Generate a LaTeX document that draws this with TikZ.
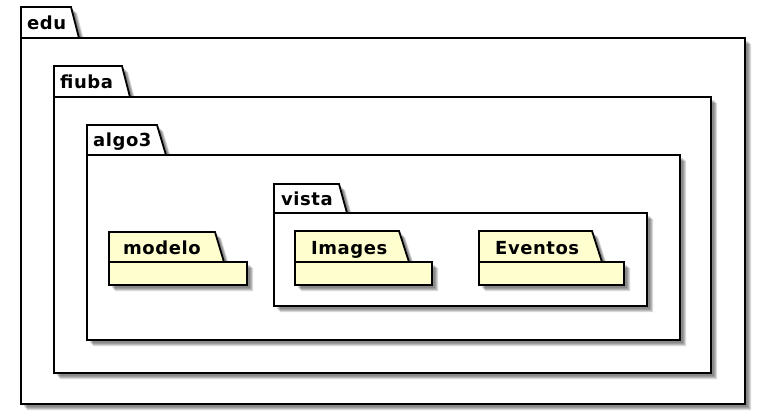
\documentclass[tikz,border=0pt]{standalone}
\usepackage{fontspec}
\newfontfamily\pkgfont[LetterSpace=3]{DejaVu Sans Bold}
\definecolor{pkgyellow}{HTML}{FEFECE}
\tikzset{
  pkgline/.style={draw=black, line width=1.8pt, line join=miter},
  pkgtext/.style={anchor=base west, inner sep=0pt, font=\fontsize{18}{21}\pkgfont},
}
% #1 left, #2 top, #3 tab top right, #4 tab bottom right, #5 tab bottom, #6 right, #7 bottom, #8 fill
\newcommand\pkgshape[8]{%
  \foreach \s in {6,5,4,3}{%
    \fill[black, opacity=0.14, shift={(\s,\s)}]
      (#1,#2) -- (#3,#2) -- (#4,#5) -- (#6,#5) -- (#6,#7) -- (#1,#7) -- cycle;
  }
  \path[pkgline, fill=#8]
      (#1,#2) -- (#3,#2) -- (#4,#5) -- (#6,#5) -- (#6,#7) -- (#1,#7) -- cycle;
  \draw[pkgline] (#1,#5) -- (#4,#5);
}
\begin{document}
\begin{tikzpicture}[x=1pt, y=-1pt]
\useasboundingbox (0,0) rectangle (766,413);
% edu
\pkgshape{21}{7}{71}{79}{38}{745}{404}{white}
\node[pkgtext] (edu) at (27,29) {edu};
% fiuba
\pkgshape{54}{66}{122}{130}{97}{711}{373}{white}
\node[pkgtext] (fiuba) at (60,88) {fiuba};
% algo3
\pkgshape{87}{125}{157}{166}{155}{680}{340}{white}
\node[pkgtext] (algo3) at (93,146) {algo3};
% vista
\pkgshape{274}{184}{339}{347}{213}{647}{306}{white}
\node[pkgtext] (vista) at (281,205) {vista};
% modelo
\pkgshape{109}{232}{215}{224}{262}{247}{285}{pkgyellow}
\node[pkgtext] (modelo) at (123,254) {modelo};
% Images
\pkgshape{295}{231}{399}{409}{262}{432}{285}{pkgyellow}
\node[pkgtext] (images) at (311,254) {Images};
% Eventos
\pkgshape{479}{231}{592}{602}{262}{624}{285}{pkgyellow}
\node[pkgtext] (eventos) at (495,254) {Eventos};
\end{tikzpicture}
\end{document}
